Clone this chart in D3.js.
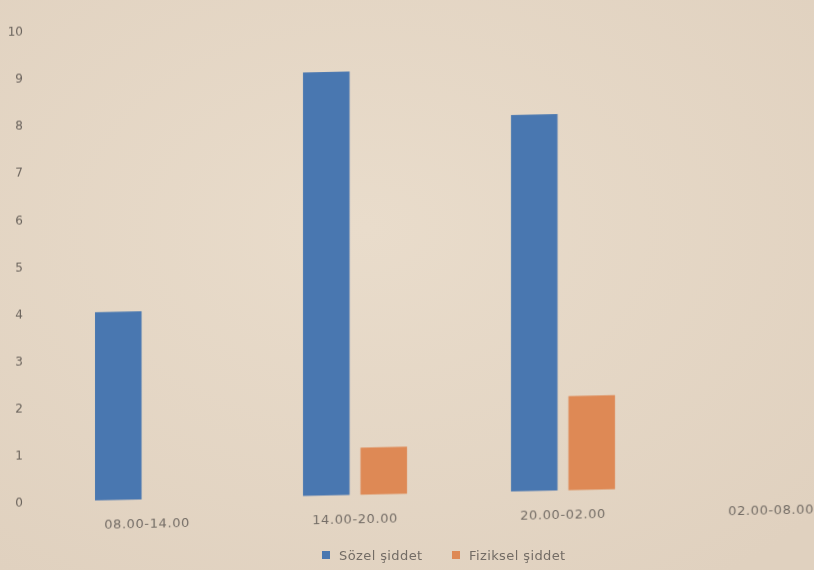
<!DOCTYPE html>
<html>
<head>
<meta charset="utf-8">
<script src="https://cdn.jsdelivr.net/npm/d3@7"></script>
<style>
  html, body { margin: 0; padding: 0; background: #e5d7c5; }
  svg { display: block; }
</style>
</head>
<body>
<svg id="chart" width="814" height="570"></svg>
<script>
// Time slots on the x axis
const categories = ["08.00-14.00", "14.00-20.00", "20.00-02.00", "02.00-08.00"];
// Series names and their counts per time slot
const seriesNames = ["Sözel şiddet", "Fiziksel şiddet"];
const verbalValues = [4, 9, 8, 0];
const physicalValues = [0, 1, 2, 0];
const yTicks = [0, 1, 2, 3, 4, 5, 6, 7, 8, 9, 10];

const colors = { "Sözel şiddet": "#4a77b0", "Fiziksel şiddet": "#de8955" };

const rows = categories.map((c, i) => ({
  cat: c,
  values: [
    { key: seriesNames[0], value: verbalValues[i] },
    { key: seriesNames[1], value: physicalValues[i] }
  ]
}));

const svg = d3.select("#chart");
const W = 814, H = 570;

// Paper background with a soft uneven light
const defs = svg.append("defs");
const rg = defs.append("radialGradient").attr("id", "paper")
  .attr("cx", "45%").attr("cy", "40%").attr("r", "75%");
rg.append("stop").attr("offset", "0%").attr("stop-color", "#e9dccb");
rg.append("stop").attr("offset", "100%").attr("stop-color", "#e0d1bf");
defs.append("filter").attr("id", "soft")
  .append("feGaussianBlur").attr("stdDeviation", 0.6);

svg.append("rect").attr("width", W).attr("height", H).attr("fill", "url(#paper)");

// The sheet is slightly tilted: shear the plot so the baseline drops to the left
const tilt = -0.0216;
const g = svg.append("g")
  .attr("transform", `matrix(1, ${tilt}, 0, 1, 0, 0)`)
  .attr("filter", "url(#soft)");

const y = d3.scaleLinear().domain([0, 10]).range([502.5, 32]);
const x0 = d3.scaleBand().domain(categories).range([43, 875]).padding(0);
const x1 = d3.scaleBand().domain(seriesNames)
  .range([x0.bandwidth() * 0.25, x0.bandwidth() * 0.75])
  .paddingInner(0.19).paddingOuter(0);

// Y axis tick labels only (no axis line, no gridlines)
const yAxis = d3.axisLeft(y).tickValues(yTicks).tickSize(0).tickPadding(0)
  .tickFormat(d3.format("d"));
const ya = g.append("g").attr("transform", "translate(23,0)").call(yAxis);
ya.select(".domain").remove();
ya.selectAll("text")
  .attr("font-family", "DejaVu Sans, sans-serif")
  .attr("font-size", 12)
  .attr("fill", "#6a635c");

// Bars
const groups = g.selectAll("g.grp").data(rows).join("g")
  .attr("class", "grp")
  .attr("transform", d => `translate(${x0(d.cat)},0)`);

groups.selectAll("rect").data(d => d.values.filter(v => v.value > 0)).join("rect")
  .attr("x", d => x1(d.key))
  .attr("width", x1.bandwidth())
  .attr("y", d => y(d.value))
  .attr("height", d => y(0) - y(d.value))
  .attr("fill", d => colors[d.key]);

// Category labels under the bars
const xAxis = d3.axisBottom(x0).tickSize(0).tickPadding(0);
const xa = g.append("g").attr("transform", `translate(0,${y(0) + 19})`).call(xAxis);
xa.select(".domain").remove();
xa.selectAll("text")
  .attr("font-family", "DejaVu Sans, sans-serif")
  .attr("font-size", 13)
  .attr("letter-spacing", 0.6)
  .attr("fill", "#736c65");

// Legend, level along the bottom
const legend = svg.append("g").attr("transform", "translate(322,560)")
  .attr("filter", "url(#soft)");
const legendX = d3.scaleOrdinal().domain(seriesNames).range([0, 130]);
const items = legend.selectAll("g").data(seriesNames).join("g")
  .attr("transform", d => `translate(${legendX(d)},0)`);
items.append("rect")
  .attr("x", 0).attr("y", -9).attr("width", 8).attr("height", 8)
  .attr("fill", d => colors[d]);
items.append("text")
  .attr("x", 17).attr("y", 0)
  .attr("font-family", "DejaVu Sans, sans-serif")
  .attr("font-size", 13)
  .attr("letter-spacing", 0.4)
  .attr("fill", "#736c65")
  .text(d => d);
</script>
</body>
</html>
